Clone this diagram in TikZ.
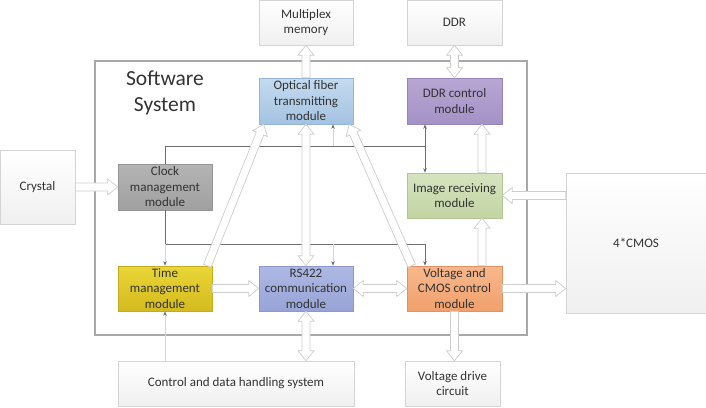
\documentclass[tikz,border=0pt]{standalone}
\usepackage{fontspec}
\setmainfont{Carlito}
\usetikzlibrary{calc,arrows.meta}
\definecolor{txt}{HTML}{333333}
\definecolor{boxline}{HTML}{D4D4D4}
\definecolor{arrline}{HTML}{CDCDCD}
\definecolor{thinline}{HTML}{6E6E6E}
\definecolor{faint}{HTML}{D6D6D6}
\definecolor{frameline}{HTML}{A8A8A8}
\newcommand\blockarr[2]{%
  \path (#1) coordinate (ba-s) (#2) coordinate (ba-e);
  \coordinate (ba-h) at ($(ba-e)!10pt!(ba-s)$);
  \filldraw[barrow] ($(ba-s)!4pt!90:(ba-e)$) -- ($(ba-h)!4pt!90:(ba-e)$) -- ($(ba-h)!8pt!90:(ba-e)$)
    -- (ba-e) -- ($(ba-h)!8pt!-90:(ba-e)$) -- ($(ba-h)!4pt!-90:(ba-e)$) -- ($(ba-s)!4pt!-90:(ba-e)$) -- cycle;
}
\newcommand\dblockarr[2]{%
  \path (#1) coordinate (ba-s) (#2) coordinate (ba-e);
  \coordinate (ba-h) at ($(ba-e)!10pt!(ba-s)$);
  \coordinate (ba-g) at ($(ba-s)!10pt!(ba-e)$);
  \filldraw[barrow] ($(ba-g)!4pt!90:(ba-e)$) -- ($(ba-h)!4pt!90:(ba-e)$) -- ($(ba-h)!8pt!90:(ba-e)$)
    -- (ba-e) -- ($(ba-h)!8pt!-90:(ba-e)$) -- ($(ba-h)!4pt!-90:(ba-e)$) -- ($(ba-g)!4pt!-90:(ba-e)$)
    -- ($(ba-g)!8pt!-90:(ba-e)$) -- (ba-s) -- ($(ba-g)!8pt!90:(ba-e)$) -- cycle;
}
\tikzset{
  mod/.style={rectangle, minimum width=95pt, minimum height=46pt, inner sep=1pt, align=center,
    font=\fontsize{13}{15.5}\selectfont, text=txt, line width=0.6pt},
  plain/.style={mod, draw=boxline, top color=white, bottom color=black!6},
  barrow/.style={fill=white, draw=arrline, line width=0.7pt, line join=miter},
  thinl/.style={draw=thinline, line width=0.9pt},
  faintl/.style={draw=faint, line width=0.7pt},
  tip/.style={-{Stealth[length=4.5pt,width=3.5pt,color=thinline]}},
}
\begin{document}
\begin{tikzpicture}[x=1pt,y=-1pt]
\useasboundingbox (0,0) rectangle (706,407);
% frame
\node[draw=frameline, line width=1.2pt, minimum width=432pt, minimum height=274pt, inner sep=0] (sys) at (311,198) {};
\node[font=\fontsize{21.5}{26}\selectfont, text=txt, align=center] (title) at (165,93) {Software\\System};
% nodes
\node[plain, minimum width=94pt, minimum height=45pt] (mem) at (306,22.5) {Multiplex\\memory};
\node[plain, minimum height=45pt] (ddr) at (454.5,22.5) {DDR};
\node[mod, minimum width=94pt, top color={rgb,255:red,196;green,219;blue,240}, bottom color={rgb,255:red,164;green,194;blue,225}, draw={rgb,255:red,150;green,180;blue,212}] (opt) at (306,101) {Optical fiber\\transmitting\\module};
\node[mod, top color={rgb,255:red,184;green,166;blue,211}, bottom color={rgb,255:red,164;green,146;blue,198}, draw={rgb,255:red,150;green,132;blue,186}] (ddrc) at (454.5,101) {DDR control\\module};
\node[plain, minimum width=75pt, minimum height=74pt] (crys) at (37.5,187) {Crystal};
\node[mod, minimum width=94pt, top color={rgb,255:red,180;green,180;blue,180}, bottom color={rgb,255:red,160;green,160;blue,160}, draw={rgb,255:red,150;green,150;blue,150}] (clk) at (165,187) {Clock\\management\\module};
\node[mod, minimum height=45pt, top color={rgb,255:red,214;green,228;blue,190}, bottom color={rgb,255:red,194;green,212;blue,164}, draw={rgb,255:red,178;green,198;blue,148}] (img) at (454.5,195.5) {Image receiving\\module};
\node[plain, minimum width=140pt, minimum height=140pt] (cmos) at (636,243) {4*CMOS};
\node[mod, minimum width=94pt, minimum height=45pt, top color={rgb,255:red,234;green,214;blue,54}, bottom color={rgb,255:red,212;green,186;blue,30}, draw={rgb,255:red,196;green,172;blue,30}] (time) at (165,288.5) {Time\\management\\module};
\node[mod, minimum width=94pt, minimum height=45pt, top color={rgb,255:red,174;green,184;blue,228}, bottom color={rgb,255:red,152;green,164;blue,214}, draw={rgb,255:red,140;green,152;blue,204}] (rs) at (306,288.5) {RS422\\communication\\module};
\node[mod, minimum height=45pt, top color={rgb,255:red,248;green,184;blue,140}, bottom color={rgb,255:red,240;green,160;blue,108}, draw={rgb,255:red,226;green,146;blue,96}] (volt) at (454.5,288.5) {Voltage and\\CMOS control\\module};
\node[plain, minimum width=236pt, minimum height=45pt] (cdh) at (236,383.5) {Control and data handling system};
\node[plain, minimum height=45pt] (vdc) at (452.5,383.5) {Voltage drive\\circuit};
% thin connectors
\coordinate (j1) at (425,146);
\coordinate (j2) at (425,244);
\coordinate (f1) at (333,146);
\coordinate (f2) at (333,244);
\draw[thinl] (clk.north) |- (j1);
\draw[thinl, {Stealth[length=4.5pt,width=3.5pt]}-{Stealth[length=4.5pt,width=3.5pt]}] (ddrc.south -| j1) -- (img.north -| j1);
\draw[thinl] (clk.south) -- (clk.south |- j2) -- (j2);
\draw[thinl, tip] (j2) -- (volt.north -| j2);
\draw[faintl, tip] (clk.south |- j2) -- (time.north);
\draw[faintl, tip] (f1) -- (opt.south -| f1);
\draw[faintl, tip] (f2) -- (rs.north -| f2);
\draw[faintl, tip] (cdh.north -| time.south) -- (time.south);
% block arrows
\blockarr{opt.north}{mem.south}
\dblockarr{ddr.south}{ddrc.north}
\blockarr{crys.east}{clk.west}
\blockarr{[xshift=-5pt]time.north east}{[xshift=5pt]opt.south west}
\dblockarr{opt.south}{rs.north}
\blockarr{[xshift=5pt]volt.north west}{[xshift=-4pt]opt.south east}
\blockarr{time.east}{rs.west}
\dblockarr{rs.east}{volt.west}
\blockarr{[xshift=27.5pt]volt.north}{[xshift=27.5pt]img.south}
\blockarr{[xshift=27.5pt]img.north}{[xshift=27.5pt]ddrc.south}
\blockarr{cmos.west |- img.east}{img.east}
\blockarr{volt.east}{cmos.west |- volt.east}
\blockarr{volt.south}{vdc.north -| volt.south}
\dblockarr{rs.south}{cdh.north -| rs.south}
\end{tikzpicture}
\end{document}
